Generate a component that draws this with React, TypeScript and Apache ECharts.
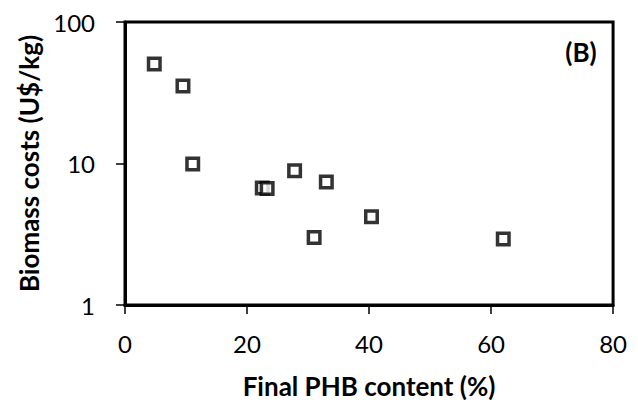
import React, { useEffect, useRef } from "react";
import * as echarts from "echarts";

const phbContent = [4.8, 9.5, 11.1, 22.5, 23.3, 27.8, 33.0, 40.4, 31.0, 62.0];
const biomassCost = [50.5, 35.3, 9.9, 6.7, 6.65, 8.9, 7.4, 4.2, 3.0, 2.93];
const xTicks = [0, 20, 40, 60, 80];
const yTicks = [1, 10, 100];

const FONT = "Lato, 'Open Sans', sans-serif";

export default function App() {
  const ref = useRef<HTMLDivElement>(null);
  useEffect(() => {
    if (!ref.current) return;
    const chart = echarts.init(ref.current, null, { renderer: "svg" });
    const data = phbContent.map((x, i) => [x, biomassCost[i]]);
    chart.setOption({
      animation: false,
      backgroundColor: "#fff",
      grid: {
        left: 117,
        right: 8,
        top: 14,
        bottom: 92,
        show: true,
        borderColor: "#000",
        borderWidth: 3,
      },
      xAxis: {
        type: "value",
        min: xTicks[0],
        max: xTicks[xTicks.length - 1],
        interval: 20,
        name: "Final PHB content (%)",
        nameLocation: "middle",
        nameGap: 68,
        nameTextStyle: { fontFamily: FONT, fontSize: 26, fontWeight: "bold", color: "#000", verticalAlign: "top" },
        axisLine: { lineStyle: { color: "#000", width: 3 } },
        axisTick: { show: true, length: 9, lineStyle: { color: "#000", width: 1.5 } },
        axisLabel: { fontFamily: FONT, fontSize: 24, color: "#000", margin: 26 },
        splitLine: { show: false },
      },
      yAxis: {
        type: "log",
        logBase: 10,
        min: yTicks[0],
        max: yTicks[yTicks.length - 1],
        name: "Biomass costs (U$/kg)",
        nameLocation: "middle",
        nameGap: 80,
        nameTextStyle: { fontFamily: FONT, fontSize: 26, fontWeight: "bold", color: "#000" },
        axisLine: { show: true, lineStyle: { color: "#000", width: 3 } },
        axisTick: { show: true, length: 9, lineStyle: { color: "#000", width: 1.5 } },
        minorTick: { show: false },
        axisLabel: { fontFamily: FONT, fontSize: 24, color: "#000", margin: 30 },
        splitLine: { show: false },
      },
      graphic: [
        {
          type: "text",
          x: 573,
          y: 44,
          style: {
            text: "(B)",
            fontFamily: FONT,
            fontSize: 26,
            fontWeight: "bold",
            fill: "#000",
            align: "center",
            verticalAlign: "middle",
          },
        },
      ],
      series: [
        {
          type: "scatter",
          data,
          symbol: "rect",
          symbolSize: 11.5,
          itemStyle: { color: "#fff", borderColor: "#000", borderWidth: 3.5 },
        },
      ],
    });
    return () => chart.dispose();
  }, []);
  return <div ref={ref} style={{ width: 622, height: 396 }} />;
}
